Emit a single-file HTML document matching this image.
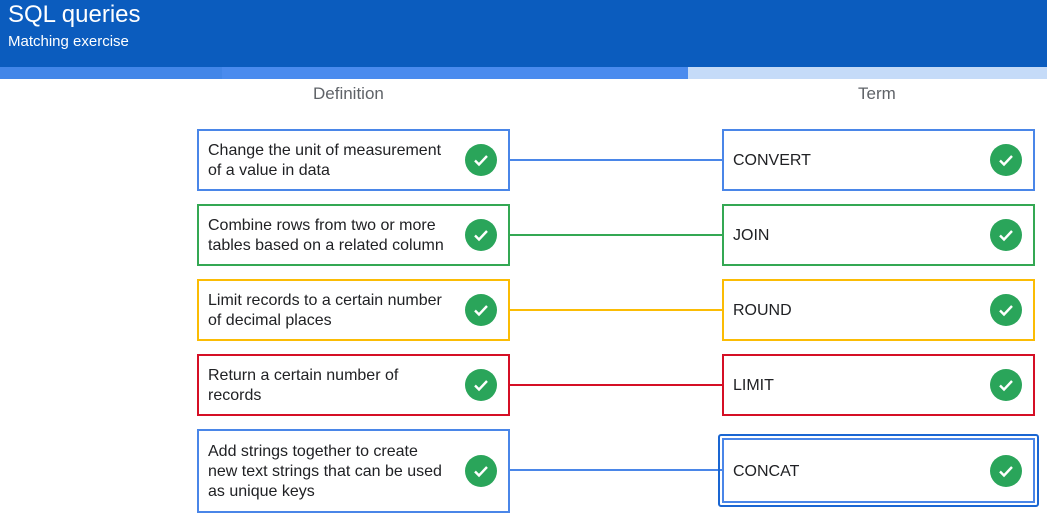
<!DOCTYPE html>
<html><head><meta charset="utf-8"><style>
*{margin:0;padding:0;box-sizing:border-box}
body{width:1047px;height:515px;overflow:hidden;background:#fff;font-family:"Liberation Sans",Arial,sans-serif;position:relative}
.hdr{position:absolute;left:0;top:0;width:1047px;height:67px;background:#0b5cbe;color:#fff}
.t1{position:absolute;left:8px;top:1px;font-size:24px}
.t2{position:absolute;left:8px;top:33px;font-size:15px}
.bar{position:absolute;top:67px;height:12px}
.h{position:absolute;top:84px;font-size:17px;color:#5f6368}
.box{position:absolute;width:313px;height:62px;border:2px solid;background:#fff;font-size:16px;color:#202124;line-height:20px;padding-left:9px;padding-top:2px;display:flex;align-items:center}
.box span{width:241px}
.chk{position:absolute;right:11px;top:50%;margin-top:-16px;width:32px;height:32px;border-radius:50%;background:#2aa55a}
.chk svg{position:absolute;left:0;top:0}
</style></head><body>
<div class="hdr"><div class="t1">SQL queries</div><div class="t2">Matching exercise</div></div>
<div class="bar" style="left:0;width:222px;background:#4286e8"></div>
<div class="bar" style="left:222px;width:466px;background:#4a8bee"></div>
<div class="bar" style="left:688px;width:359px;background:#c5dbf8"></div>
<div class="h" style="left:313px">Definition</div>
<div class="h" style="left:858px">Term</div>
<svg style="position:absolute;left:0;top:0" width="1047" height="515">
<line x1="510" y1="160" x2="722" y2="160" stroke="#4a86e8" stroke-width="2"/>
<line x1="510" y1="235" x2="722" y2="235" stroke="#34a853" stroke-width="2"/>
<line x1="510" y1="310" x2="722" y2="310" stroke="#fbbc04" stroke-width="2"/>
<line x1="510" y1="385" x2="722" y2="385" stroke="#d50f25" stroke-width="2"/>
<line x1="510" y1="470" x2="722" y2="470" stroke="#4a86e8" stroke-width="2"/>
</svg>
<div class="box" style="left:197px;top:129px;border-color:#4a86e8"><span>Change the unit of measurement of a value in data</span><div class="chk"><svg width="32" height="32"><path d="M10 16.5l4 4 8-8.5" stroke="#fff" stroke-width="2.4" fill="none"/></svg></div></div>
<div class="box" style="left:197px;top:204px;border-color:#34a853"><span>Combine rows from two or more tables based on a related column</span><div class="chk"><svg width="32" height="32"><path d="M10 16.5l4 4 8-8.5" stroke="#fff" stroke-width="2.4" fill="none"/></svg></div></div>
<div class="box" style="left:197px;top:279px;border-color:#fbbc04"><span>Limit records to a certain number of decimal places</span><div class="chk"><svg width="32" height="32"><path d="M10 16.5l4 4 8-8.5" stroke="#fff" stroke-width="2.4" fill="none"/></svg></div></div>
<div class="box" style="left:197px;top:354px;border-color:#d50f25"><span>Return a certain number of records</span><div class="chk"><svg width="32" height="32"><path d="M10 16.5l4 4 8-8.5" stroke="#fff" stroke-width="2.4" fill="none"/></svg></div></div>
<div class="box" style="left:197px;top:429px;height:84px;border-color:#4a86e8"><span>Add strings together to create new text strings that can be used as unique keys</span><div class="chk"><svg width="32" height="32"><path d="M10 16.5l4 4 8-8.5" stroke="#fff" stroke-width="2.4" fill="none"/></svg></div></div>

<div class="box" style="left:722px;top:129px;border-color:#4a86e8"><span>CONVERT</span><div class="chk"><svg width="32" height="32"><path d="M10 16.5l4 4 8-8.5" stroke="#fff" stroke-width="2.4" fill="none"/></svg></div></div>
<div class="box" style="left:722px;top:204px;border-color:#34a853"><span>JOIN</span><div class="chk"><svg width="32" height="32"><path d="M10 16.5l4 4 8-8.5" stroke="#fff" stroke-width="2.4" fill="none"/></svg></div></div>
<div class="box" style="left:722px;top:279px;border-color:#fbbc04"><span>ROUND</span><div class="chk"><svg width="32" height="32"><path d="M10 16.5l4 4 8-8.5" stroke="#fff" stroke-width="2.4" fill="none"/></svg></div></div>
<div class="box" style="left:722px;top:354px;border-color:#d50f25"><span>LIMIT</span><div class="chk"><svg width="32" height="32"><path d="M10 16.5l4 4 8-8.5" stroke="#fff" stroke-width="2.4" fill="none"/></svg></div></div>
<div style="position:absolute;left:718px;top:434px;width:321px;height:73px;border:2px solid #1a66d2;border-radius:3px"></div>
<div class="box" style="left:722px;top:438px;height:65px;border-color:#4a86e8"><span>CONCAT</span><div class="chk"><svg width="32" height="32"><path d="M10 16.5l4 4 8-8.5" stroke="#fff" stroke-width="2.4" fill="none"/></svg></div></div>
</body></html>
